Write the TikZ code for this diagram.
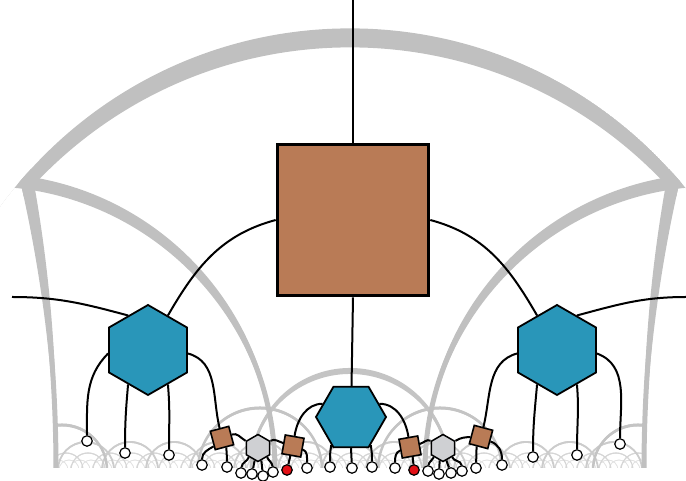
\documentclass[tikz,border=0pt]{standalone}
\usepackage{tikz}
\usetikzlibrary{shapes.geometric, calc}

\definecolor{rust}{RGB}{185,123,86}
\definecolor{hexblue}{RGB}{41,150,185}
\definecolor{hexgray}{RGB}{207,208,211}
\definecolor{sitered}{RGB}{226,16,22}
\definecolor{tileA}{RGB}{192,192,192}
\definecolor{tileB}{RGB}{196,196,196}
\definecolor{tileC}{RGB}{204,204,204}
\definecolor{tileD}{RGB}{214,214,214}
\definecolor{tileE}{RGB}{226,226,226}

\newcommand{\ybnd}{11}
% geodesic band: centre, radius, half width, colour, base width
\newcommand{\geoband}[5]{%
  \begin{scope}
    \clip (#1-#2-4,\ybnd) rectangle (#1+#2+4,\ybnd+#2+#3+8);
    \pgfmathsetmacro{\gbR}{veclen(#2,#3)}
    \fill[#4, even odd rule] (#1,\ybnd+#3) circle[radius=\gbR pt]
                             (#1,\ybnd-#3) circle[radius=\gbR pt];
    \draw[#4, line width=#5pt] (#1,\ybnd) circle[radius=#2 pt];
  \end{scope}}

\begin{document}
\begin{tikzpicture}[
        x=1pt, y=1pt,
        bigsq/.style={draw, rectangle, line width=3.6pt, fill=rust, minimum size=151pt, inner sep=0pt},
        hexbig/.style={draw, regular polygon, regular polygon sides=6, shape border rotate=30, line width=1.8pt, fill=hexblue, minimum size=90pt, inner sep=0pt},
        hexmid/.style={draw, regular polygon, regular polygon sides=6, line width=1.8pt, fill=hexblue, minimum size=70pt, inner sep=0pt},
        hexsmall/.style={draw, regular polygon, regular polygon sides=6, shape border rotate=30, line width=1.5pt, fill=hexgray, minimum size=27pt, inner sep=0pt},
        tiny/.style={draw, rectangle, line width=1.6pt, fill=rust, minimum size=19pt, inner sep=0pt},
        site/.style={draw, circle, line width=1.2pt, fill=white, minimum size=10.5pt, inner sep=0pt},
        leg/.style={line width=2pt, black}
    ]
    \useasboundingbox (0,0) rectangle (686,481);

    % Hyperbolic tiling in the background
    \begin{scope}
        \clip (0,13) rectangle (686,481);
        \clip (350,20.5) circle[radius=432.2pt];

        \foreach \i in {0,...,53}{
            \pgfmathsetmacro{\cx}{58+11*\i}
            \geoband{\cx}{10}{0.3}{tileE}{0.7}}
        \foreach \i in {0,...,26}{
            \pgfmathsetmacro{\cx}{66+22*\i}
            \geoband{\cx}{17}{0.5}{tileD}{1.1}}
        \foreach \i in {0,...,12}{
            \pgfmathsetmacro{\cx}{86+44*\i}
            \geoband{\cx}{28}{0.9}{tileC}{1.8}}

        \geoband{62}{45}{1.5}{tileB}{2.5}
        \geoband{638}{45}{1.5}{tileB}{2.5}
        \geoband{260}{62}{1.5}{tileB}{2.5}
        \geoband{440}{62}{1.5}{tileB}{2.5}
        \geoband{350}{99}{3}{tileB}{3}
        \geoband{350}{432}{9.5}{tileA}{5}

        % outside the side geodesics
        \fill[white] (-1378.7,-21.5) circle[radius=1435pt];
        \fill[white] (2078.7,-21.5) circle[radius=1435pt];

        \geoband{-15.1}{290.1}{6.5}{tileA}{5}
        \geoband{715.1}{290.1}{6.5}{tileA}{5}
        \geoband{-1378.7}{1434.7}{32.5}{tileA}{5}
        \geoband{2078.7}{1434.7}{32.5}{tileA}{5}
    \end{scope}

    % Tensors
    \node[bigsq] (root) at (353,261) {};
    \node[hexbig] (hexL) at (148,131) {};
    \node[hexbig] (hexR) at (557,131) {};
    \node[hexmid] (hexC) at (351,64) {};
    \node[hexsmall] (gA) at (258,33) {};
    \node[hexsmall] (gB) at (443,33) {};
    \node[tiny, rotate=15] (sqA) at (222,43) {};
    \node[tiny, rotate=-10] (sqB) at (293,35) {};
    \node[tiny, rotate=10] (sqC) at (410,34) {};
    \node[tiny, rotate=-15] (sqD) at (481,44) {};

    \coordinate (up) at (353,481);
    \coordinate (edgeL) at (12,184);
    \coordinate (edgeR) at (686,184);

    % Boundary sites
    \foreach \n/\x/\y in {l1/87/40, l2/125/28, l3/169/26, a1/202/16, a2/227/14,
                          g1/241/8, g2/252/7, g3/263/5, g4/273/9, b2/307/13,
                          c1/330/14, c2/352/13, c3/372/14, d1/395/13,
                          h1/428/10, h2/439/7, h3/451/8, h4/462/10,
                          e1/476/13, e2/502/16, r1/533/24, r2/577/26, r3/620/37}
        \node[site] (\n) at (\x,\y) {};
    \node[site, fill=sitered] (rb) at (287,11) {};
    \node[site, fill=sitered] (rd) at (414,11) {};

    % Top level bonds
    \draw[leg] (root) -- (up);
    \draw[leg] (root.south) -- (hexC);
    \draw[leg] (root.west) to[out=195,in=60] (hexL);
    \draw[leg] (root.east) to[out=-15,in=120] (hexR);
    \draw[leg] (hexL.120) to[out=165,in=0] (edgeL);
    \draw[leg] (hexR.60) to[out=15,in=180] (edgeR);

    % Legs of the side hexagons
    \draw[leg] (hexL.185) to[out=225,in=90] (l1);
    \draw[leg] (hexL.240) to[out=265,in=90] (l2);
    \draw[leg] (hexL.300) to[out=275,in=90] (l3);
    \draw[leg] (hexL.-5) to[out=-15,in=100] (sqA);
    \draw[leg] (hexR.185) to[out=195,in=80] (sqD);
    \draw[leg] (hexR.240) to[out=265,in=90] (r1);
    \draw[leg] (hexR.300) to[out=275,in=90] (r2);
    \draw[leg] (hexR.-5) to[out=-20,in=90] (r3);

    % Legs of the middle hexagon
    \draw[leg] (hexC.155) to[out=180,in=85] (sqB);
    \draw[leg] (hexC.25) to[out=0,in=95] (sqC);
    \draw[leg] (hexC.235) to[out=260,in=90] (c1);
    \draw[leg] (hexC.270) -- (c2);
    \draw[leg] (hexC.-55) to[out=-80,in=90] (c3);

    % Lower left cluster
    \draw[leg] (sqA.210) to[out=210,in=90] (a1);
    \draw[leg] (sqA.-80) to[out=-90,in=90] (a2);
    \draw[leg] (sqA) to[out=10,in=150] (gA);
    \draw[leg] (gA) to[out=30,in=170] (sqB);
    \draw[leg] (gA.225) to[out=250,in=85] (g1);
    \draw[leg] (gA.255) -- (g2);
    \draw[leg] (gA.285) -- (g3);
    \draw[leg] (gA.315) to[out=290,in=95] (g4);
    \draw[leg] (sqB.-95) -- (rb);
    \draw[leg] (sqB.-10) to[out=-20,in=90] (b2);

    % Lower right cluster
    \draw[leg] (sqC.190) to[out=200,in=90] (d1);
    \draw[leg] (sqC.-85) -- (rd);
    \draw[leg] (sqC) to[out=10,in=150] (gB);
    \draw[leg] (gB) to[out=30,in=190] (sqD);
    \draw[leg] (gB.225) to[out=250,in=85] (h1);
    \draw[leg] (gB.255) -- (h2);
    \draw[leg] (gB.285) -- (h3);
    \draw[leg] (gB.315) to[out=290,in=95] (h4);
    \draw[leg] (sqD.-100) -- (e1);
    \draw[leg] (sqD.-10) to[out=-20,in=90] (e2);

\end{tikzpicture}
\end{document}
